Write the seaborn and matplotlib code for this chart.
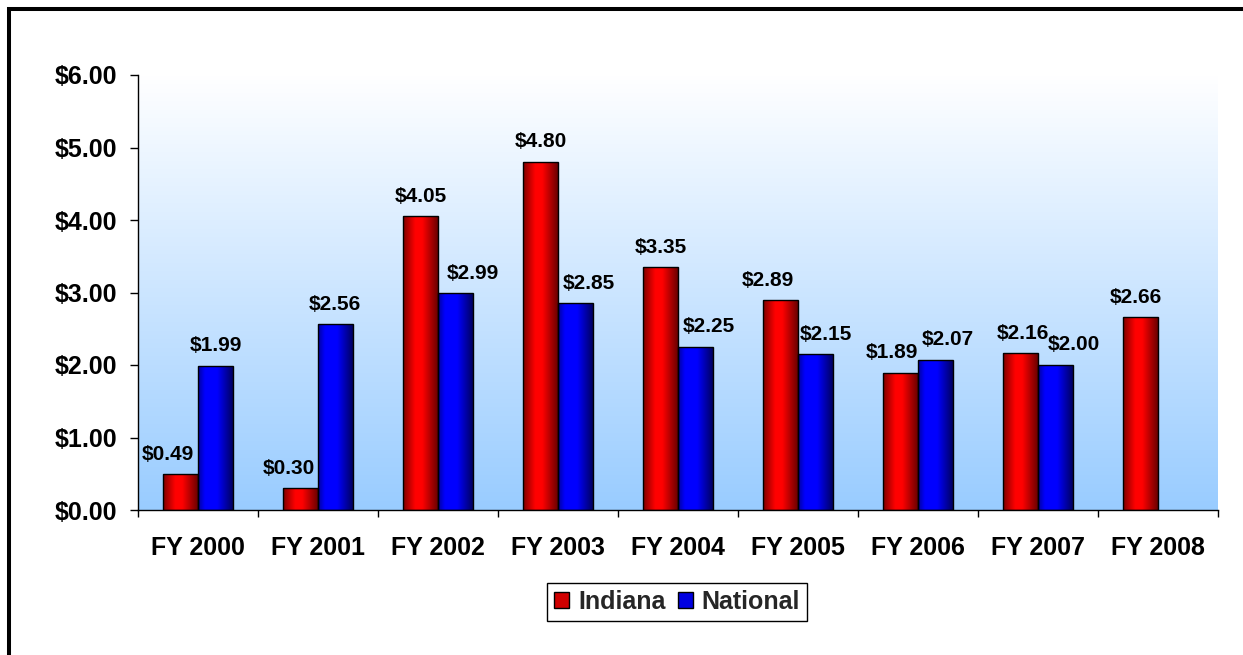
import numpy as np
import pandas as pd
import matplotlib
matplotlib.use("Agg")
import matplotlib.pyplot as plt
from matplotlib.patches import Patch, Rectangle
from matplotlib.ticker import FixedLocator, FuncFormatter
import seaborn as sns

# ---- data ----
years = ["FY 2000", "FY 2001", "FY 2002", "FY 2003", "FY 2004",
         "FY 2005", "FY 2006", "FY 2007", "FY 2008"]
indiana = [0.49, 0.30, 4.05, 4.80, 3.35, 2.89, 1.89, 2.16, 2.66]
national = [1.99, 2.56, 2.99, 2.85, 2.25, 2.15, 2.07, 2.00, np.nan]
series = ["Indiana", "National"]

# label horizontal nudges (px) as in the original (overlap avoidance)
ind_dx = [-13, -12, 0, 0, 0, -13, -9, 2, -5]
nat_dx = [0, -1, 17, 13, 13, 10, 12, 18, 0]

df = pd.DataFrame({
    "year": years * 2,
    "series": [series[0]] * len(years) + [series[1]] * len(years),
    "value": indiana + national,
})

sns.set_style("ticks")
plt.rcParams["font.family"] = ["Liberation Sans", "DejaVu Sans"]
plt.rcParams["font.weight"] = "bold"

W, H = 1243, 655
fig = plt.figure(figsize=(W / 100, H / 100), dpi=100)
fig.patch.set_facecolor("white")
ax = fig.add_axes([138 / W, 1 - 510 / H, (1218 - 138) / W, (510 - 75) / H])
ax.patch.set_visible(False)

# background gradient (white top -> light blue bottom)
top = np.array([1.0, 1.0, 1.0])
bot = np.array([153, 204, 255]) / 255
tt = np.linspace(0, 1, 256)[:, None]
bg = (top * (1 - tt) + bot * tt)[:, None, :]
ax.imshow(bg, extent=[0, 1, 0, 1], transform=ax.transAxes, aspect="auto",
          zorder=-10, interpolation="bilinear")

palette = {"Indiana": "#FF0000", "National": "#0000FF"}
sns.barplot(data=df, x="year", y="value", hue="series", order=years,
            hue_order=series, palette=palette, width=0.58, gap=0,
            edgecolor="black", linewidth=1.0, saturation=1, legend=False,
            ax=ax, zorder=2)

# gradient shading of bars
def profile(stops, vals, n=128):
    x = np.linspace(0, 1, n)
    return np.interp(x, stops, vals)

red_i = profile([0, 0.35, 0.55, 1], [0.50, 1.0, 1.0, 0.42])
blue_i = profile([0, 0.2, 0.55, 1], [0.62, 1.0, 1.0, 0.38])
red_img = np.zeros((1, len(red_i), 3)); red_img[0, :, 0] = red_i
blue_img = np.zeros((1, len(blue_i), 3)); blue_img[0, :, 2] = blue_i

for p in list(ax.patches):
    h = p.get_height()
    if not np.isfinite(h) or h <= 0:
        continue
    x0, y0, w = p.get_x(), p.get_y(), p.get_width()
    fc = p.get_facecolor()
    img = red_img if fc[0] > fc[2] else blue_img
    im = ax.imshow(img, extent=[x0, x0 + w, y0, y0 + h], aspect="auto",
                   zorder=1.5, interpolation="bilinear")
    im.set_clip_path(p)
    p.set_facecolor("none")
    p.set_zorder(2)

ax.set_xlim(-0.5, len(years) - 0.5)
ax.set_ylim(0, 6)

# data labels
for cont, vals, dxs in zip(ax.containers, [indiana, national], [ind_dx, nat_dx]):
    for bar, v, dx in zip(cont, vals, dxs):
        if not np.isfinite(v):
            continue
        cx = bar.get_x() + bar.get_width() / 2
        ax.annotate(f"${v:.2f}", (cx, v), xytext=(dx * 0.72, 10.5),
                    textcoords="offset points", ha="center", va="baseline",
                    fontsize=15, fontweight="bold", color="black", zorder=5)

# axes styling
for s in ["top", "right"]:
    ax.spines[s].set_visible(False)
for s in ["left", "bottom"]:
    ax.spines[s].set_color("black")
    ax.spines[s].set_linewidth(1.0)

ax.set_yticks(np.arange(0, 7, 1))
ax.yaxis.set_major_formatter(FuncFormatter(lambda v, _: f"${v:.2f}"))
ax.tick_params(axis="y", direction="out", length=6, width=1, color="black",
               pad=9, labelsize=18, labelcolor="black")
ax.set_xticks(range(len(years)))
ax.set_xticklabels(years)
ax.tick_params(axis="x", which="major", length=0, pad=19, labelsize=18,
               labelcolor="black")
ax.xaxis.set_minor_locator(FixedLocator(np.arange(-0.5, len(years), 1)))
ax.tick_params(axis="x", which="minor", direction="out", length=5, width=1,
               color="black")
for lab in ax.get_xticklabels() + ax.get_yticklabels():
    lab.set_fontweight("bold")
ax.set_xlabel("")
ax.set_ylabel("")

# legend
handles = [Patch(facecolor="#D00000", edgecolor="black", linewidth=1),
           Patch(facecolor="#0000E0", edgecolor="black", linewidth=1)]
leg = fig.legend(handles, series, loc="center",
                 bbox_to_anchor=(677 / W, 1 - 602 / H), ncol=2,
                 frameon=True, fancybox=False, framealpha=1, edgecolor="black",
                 handlelength=0.6, handleheight=0.6, handletextpad=0.35,
                 columnspacing=0.5, borderpad=0.28, borderaxespad=0,
                 prop={"size": 18, "weight": "bold"})
leg.get_frame().set_linewidth(1.0)

# outer chart border (only top and left edges fall inside the image)
fig.add_artist(Rectangle((9 / W, -0.2), 1.3, 1 - 9 / H + 0.2,
                         transform=fig.transFigure, fill=False,
                         edgecolor="black", linewidth=2.9, clip_on=False))

fig.savefig("out.png", dpi=100, facecolor="white")
